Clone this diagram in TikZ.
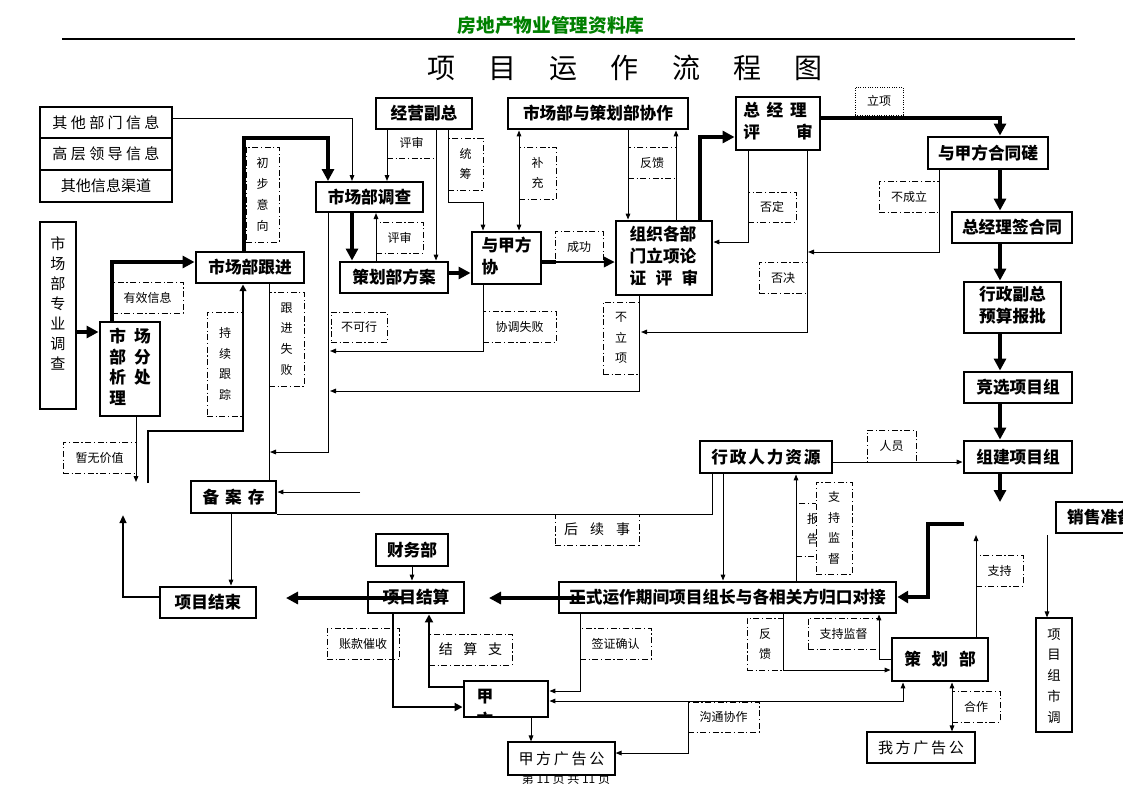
\documentclass[tikz,border=0pt]{standalone}
\usepackage{fontspec}
\setmainfont{Noto Sans CJK SC}
\usetikzlibrary{arrows.meta}
\definecolor{hdrgreen}{RGB}{0,128,0}
\newcommand\gp[1]{\hspace{#1pt}}
\newcommand\B[7]{\node[#6, minimum width={(#4-#2)*0.75pt}, minimum height={(#5-#3)*0.75pt}] (#1) at ({(#2+#4)/2},{(#3+#5)/2}) {#7};}
\tikzset{
  tb/.style={draw, line width=2.2pt, fill=white, inner sep=0pt, align=center, font=\bfseries\fontsize{12.5}{16.5}\selectfont},
  mb/.style={tb, line width=1.5pt},
  nb/.style={draw, line width=0.9pt, fill=white, inner sep=0pt, align=center, font=\fontsize{11.3}{15}\selectfont},
  lb/.style={draw, line width=0.7pt, dash pattern=on 4.5pt off 2pt on 0.8pt off 2pt, inner sep=0pt, align=center, font=\fontsize{9}{15.6}\selectfont},
  lbw/.style={lb, fill=white},
  lbd/.style={lb, dash pattern=on 0.8pt off 1pt},
  tn/.style={line width=0.75pt, -{Triangle[length=4.5pt,width=3.5pt]}},
  tn2/.style={line width=0.75pt, {Triangle[length=4.5pt,width=3.5pt]}-{Triangle[length=4.5pt,width=3.5pt]}},
  th/.style={line width=3pt, -{Triangle[length=9pt,width=9pt]}},
  tm/.style={line width=2.2pt, -{Triangle[length=6pt,width=6pt]}},
  ln/.style={line width=0.75pt},
}
\begin{document}
\begin{tikzpicture}[x=0.75pt,y=-0.75pt]
\useasboundingbox (0,0) rectangle (1123,794);
% header
\node[text=hdrgreen, font=\bfseries\fontsize{14}{16}\selectfont] (hdr) at (551,25) {房地产物业管理资料库};
\coordinate (hl) at (62,39); \coordinate (hr) at (1075,39);
\draw[line width=1.1pt] (hl) -- (hr);
\node[font=\fontsize{21}{24}\selectfont] (title) at (625,68) {项\gp{25}目\gp{25}运\gp{25}作\gp{25}流\gp{25}程\gp{25}图};
% footer
\node[font=\fontsize{9}{10}\selectfont] (foot) at (566,779) {第 11 页 共 11 页};

% ---------- boxes ----------
\B{info1}{40}{107}{172}{138}{nb}{其\gp{2.5}他\gp{2.5}部\gp{2.5}门\gp{2.5}信\gp{2.5}息}
\B{info2}{40}{138}{172}{170}{nb}{高\gp{2.5}层\gp{2.5}领\gp{2.5}导\gp{2.5}信\gp{2.5}息}
\B{info3}{40}{170}{172}{202}{nb}{其他信息渠道}
\B{zy}{40}{222}{76}{409}{nb}{}
\node[font=\fontsize{11.3}{15}\selectfont, align=center] (zyt) at (58,303) {市\\场\\部\\专\\业\\调\\查};
\B{fx}{100}{322}{160}{416}{tb}{\begin{tabular}{@{}l@{}}市\gp{6}场\\[-1pt]部\gp{6}分\\[-1pt]析\gp{6}处\\[-1pt]理\end{tabular}}
\B{gj}{196}{252}{304}{283}{tb}{市场部跟进}
\B{dc}{316}{182}{423}{212}{mb}{市场部调查}
\B{jy}{376}{98}{472}{129}{tb}{经营副总}
\B{xz}{508}{98}{688}{129}{tb}{市场部与策划部协作}
\B{fa}{340}{262}{448}{293}{tb}{策划部方案}
\B{yj}{472}{232}{541}{284}{tb}{\begin{tabular}{@{}l@{}}与甲方\\协\end{tabular}}
\B{zz}{616}{221}{712}{295}{tb}{\begin{tabular}{@{}l@{}}组织各部\\门立项论\\证\gp{7}评\gp{7}审\end{tabular}}
\B{zj}{736}{97}{820}{150}{tb}{\begin{tabular}{@{}l@{}}总\gp{5}经\gp{5}理\\评\gp{27}审\end{tabular}}
\B{ht}{928}{137}{1048}{169}{tb}{与甲方合同磋}
\B{qht}{952}{212}{1072}{243}{tb}{总经理签合同}
\B{xzfz}{964}{282}{1061}{333}{tb}{\begin{tabular}{@{}l@{}}行政副总\\预算报批\end{tabular}}
\B{jx}{964}{372}{1072}{403}{tb}{竞选项目组}
\B{zjxm}{964}{441}{1072}{473}{tb}{组建项目组}
\B{xs}{1056}{502}{1145}{533}{tb}{销售准备}
\B{rl}{700}{441}{832}{473}{tb}{行\gp{1.4}政\gp{1.4}人\gp{1.4}力\gp{1.4}资\gp{1.4}源}
\B{ba}{191}{481}{276}{513}{tb}{备\gp{4.5}案\gp{4.5}存}
\B{js}{160}{587}{256}{618}{tb}{项目结束}
\B{cw}{376}{534}{448}{566}{tb}{财务部}
\B{jsuan}{368}{582}{464}{613}{tb}{项目结算}
\B{zs}{559}{582}{896}{613}{tb}{正式运作期间项目组长与各相关方归口对接}
\B{ch}{892}{638}{988}{681}{tb}{策\gp{8}划\gp{8}部}
\B{jia}{464}{681}{548}{717}{tb}{}
\node[font=\bfseries\fontsize{12.5}{15}\selectfont] (jiat) at (485,697) {甲};
\begin{scope}
\clip (466,683) rectangle (546,715.5);
\node[font=\bfseries\fontsize{12.5}{15}\selectfont] (jiat2) at (485,720) {方};
\end{scope}
\B{jf}{508}{742}{615}{775}{nb}{甲\gp{2}方\gp{2}广\gp{2}告\gp{2}公}
\B{wf}{867}{732}{975}{763}{nb}{我\gp{2}方\gp{2}广\gp{2}告\gp{2}公}
\B{xmsd}{1036}{618}{1072}{732}{nb}{}
\node[font=\fontsize{10}{15.6}\selectfont, align=center] (xmsdt) at (1054,676) {项\\目\\组\\市\\调};

% ---------- labels ----------
\B{lyx}{112}{282}{183}{313}{lb}{有效信息}
\B{lcb}{246}{147}{279}{242}{lb}{初\\步\\意\\向}
\B{lps1}{387}{128}{436}{158}{lb}{评审}
\B{ltc}{448}{138}{483}{190}{lb}{统\\筹}
\B{lbc}{519}{147}{556}{199}{lb}{补\\充}
\B{lfk1}{628}{147}{676}{178}{lb}{反馈}
\B{lps2}{376}{222}{423}{253}{lb}{评审}
\B{lcg}{555}{231}{603}{262}{lb}{成功}
\B{llx}{855}{87}{903}{115}{lbd}{立项}
\B{lbcl}{879}{181}{939}{212}{lb}{不成立}
\B{lfd}{748}{192}{796}{222}{lb}{否定}
\B{lfj}{759}{262}{807}{293}{lb}{否决}
\B{lblx}{603}{302}{639}{374}{lb}{不\\立\\项}
\B{lxt}{483}{311}{556}{342}{lb}{协调失败}
\B{lbkx}{331}{312}{387}{342}{lb}{不可行}
\B{lgj}{269}{292}{304}{386}{lb}{跟\\进\\失\\败}
\B{lcx}{207}{312}{243}{416}{lb}{持\\续\\跟\\踪}
\B{lzw}{63}{442}{136}{473}{lb}{暂无价值}
\B{lhx}{555}{514}{639}{545}{lb}{\fontsize{10.5}{12}\selectfont 后\gp{9}续\gp{9}事}
\B{lry}{867}{430}{916}{462}{lb}{人员}
\B{lbg}{796}{503}{830}{556}{lb}{}
\node[font=\fontsize{9}{15.6}\selectfont, align=center] (lbgt) at (813,529) {报\\告};
\B{lzc1}{816}{482}{852}{574}{lbw}{支\\持\\监\\督}
\B{lqz}{580}{628}{651}{659}{lb}{签证确认}
\B{lzk}{327}{628}{399}{659}{lb}{账款催收}
\B{ljs}{429}{634}{512}{665}{lb}{\fontsize{10.5}{12}\selectfont 结\gp{8}算\gp{8}支}
\B{lgt}{688}{702}{759}{732}{lb}{沟通协作}
\B{lfk2}{747}{618}{783}{670}{lb}{反\\馈}
\B{lzc2}{808}{618}{879}{649}{lb}{支持监督}
\B{lzc3}{976}{555}{1023}{586}{lb}{支持}
\B{lhz}{952}{691}{1000}{722}{lb}{合作}

% ---------- coordinates ----------
\coordinate (cg) at (556,262);
\coordinate (zjend) at (1000,502);
\coordinate (bcl) at (808,252);
\coordinate (fj) at (641,332);
\coordinate (blx) at (330,391);
\coordinate (xtsb) at (330,351);
\coordinate (bkx) at (270,452);
\coordinate (cxs) at (148,483);
\coordinate (zwj) at (136,482);
\coordinate (bain) at (360,492);
\coordinate (jsup) at (123,515);
\coordinate (a1s) at (403,598); \coordinate (a1e) at (286,598);
\coordinate (a2s) at (585,598); \coordinate (a2e) at (489,598);
\coordinate (vts) at (964,524);
\coordinate (zcup) at (976,535);
\coordinate (gt) at (688,701);
\coordinate (xsd) at (1047,535);

% ---------- connectors ----------
\draw[tn] (info1.east |- 0,118) -| (dc.north -| 352,0);
\draw[th] (gj.north -| 244,0) |- (328,138) -- (dc.north -| 328,0);
\draw[th] (zy.east |- 0,332) -- (fx.west |- 0,332);
\draw[th] (fx.north -| 112,0) |- (gj.west |- 0,262);
\draw[tn] (jy.south -| 387,0) -- (dc.north -| 387,0);
\draw[tn] (jy.south -| 436,0) -- (fa.north -| 436,0);
\draw[tn] (jy.south -| 448,0) |- (483,202) -- (yj.north -| 483,0);
\draw[tn2] (xz.south -| 519,0) -- (yj.north -| 519,0);
\draw[tn] (xz.south -| 628,0) -- (zz.north -| 628,0);
\draw[tn] (zz.north -| 676,0) -- (xz.south -| 676,0);
\draw[th] (dc.south -| 352,0) -- (fa.north -| 352,0);
\draw[tn] (fa.north -| 376,0) -- (dc.south -| 376,0);
\draw[th] (fa.east |- 0,273) -- (yj.west |- 0,273);
\draw[line width=3pt] (yj.east |- 0,262) -- (cg);
\draw[line width=1pt, -{Triangle[length=8pt,width=8pt]}] (cg) -- (zz.west |- 0,262);
\draw[th] (zz.north -| 700,0) |- (zj.west |- 0,137);
\draw[th] (zj.east |- 0,118) -| (ht.north -| 1000,0);
\draw[th] (ht.south -| 1000,0) -- (qht.north -| 1000,0);
\draw[th] (qht.south -| 1000,0) -- (xzfz.north -| 1000,0);
\draw[th] (xzfz.south -| 1000,0) -- (jx.north -| 1000,0);
\draw[th] (jx.south -| 1000,0) -- (zjxm.north -| 1000,0);
\draw[th] (zjxm.south -| 1000,0) -- (zjend);
\draw[tn] (ht.south -| 939,0) |- (bcl);
\draw[tn] (zj.south -| 748,0) |- (zz.east |- 0,242);
\draw[tn] (zj.south -| 807,0) |- (fj);
\draw[tn] (zz.south -| 639,0) |- (blx);
\draw[tn] (yj.south -| 483,0) |- (xtsb);
\draw[tn] (dc.south -| 328,0) |- (bkx);
\draw[ln] (gj.south -| 269,0) -- (ba.north -| 269,0);
\draw[line width=2.2pt, -{Triangle[length=5pt,width=5pt]}] (cxs) |- (243,431) -- (gj.south -| 243,0);
\draw[tn] (fx.south -| 136,0) -- (zwj);
\draw[tn] (bain) -- (ba.east |- 0,492);
\draw[ln] (rl.south -| 712,0) |- (ba.east |- 0,514);
\draw[tn] (ba.south -| 231,0) -- (js.north -| 231,0);
\draw[line width=1.6pt, -{Triangle[length=6pt,width=5pt]}] (js.west |- 0,597) -| (jsup);
\draw[tn] (cw.south -| 412,0) -- (jsuan.north -| 412,0);
\draw[th] (a1s) -- (a1e);
\draw[th] (a2s) -- (a2e);
\draw[tm] (jsuan.south -| 393,0) |- (jia.west |- 0,707);
\draw[tm] (jia.west |- 0,687) -| (jsuan.south -| 429,0);
\draw[tn] (rl.south -| 723,0) -- (zs.north -| 723,0);
\draw[tn] (zs.north -| 796,0) -- (rl.south -| 796,0);
\draw[tn] (rl.east |- 0,462) -- (zjxm.west |- 0,462);
\draw[line width=3.6pt, -{Triangle[length=8pt,width=9pt]}] (vts) -| (928,597) -- (zs.east |- 0,597);
\draw[tn] (ch.north -| 976,0) -- (zcup);
\draw[tn] (zs.south -| 783,0) |- (ch.west |- 0,670);
\draw[tn] (ch.west |- 0,659) -| (zs.south -| 879,0);
\draw[tn] (zs.south -| 580,0) |- (jia.east |- 0,691);
\draw[tn2] (ch.south -| 903,0) |- (jia.east |- 0,701);
\draw[tn] (gt) |- (jf.east |- 0,753);
\draw[tn2] (ch.south -| 952,0) -- (wf.north -| 952,0);
\draw[tn] (xsd) -- (xmsd.north -| 1047,0);
\draw[tn] (jia.south -| 531,0) -- (jf.north -| 531,0);
\end{tikzpicture}
\end{document}
